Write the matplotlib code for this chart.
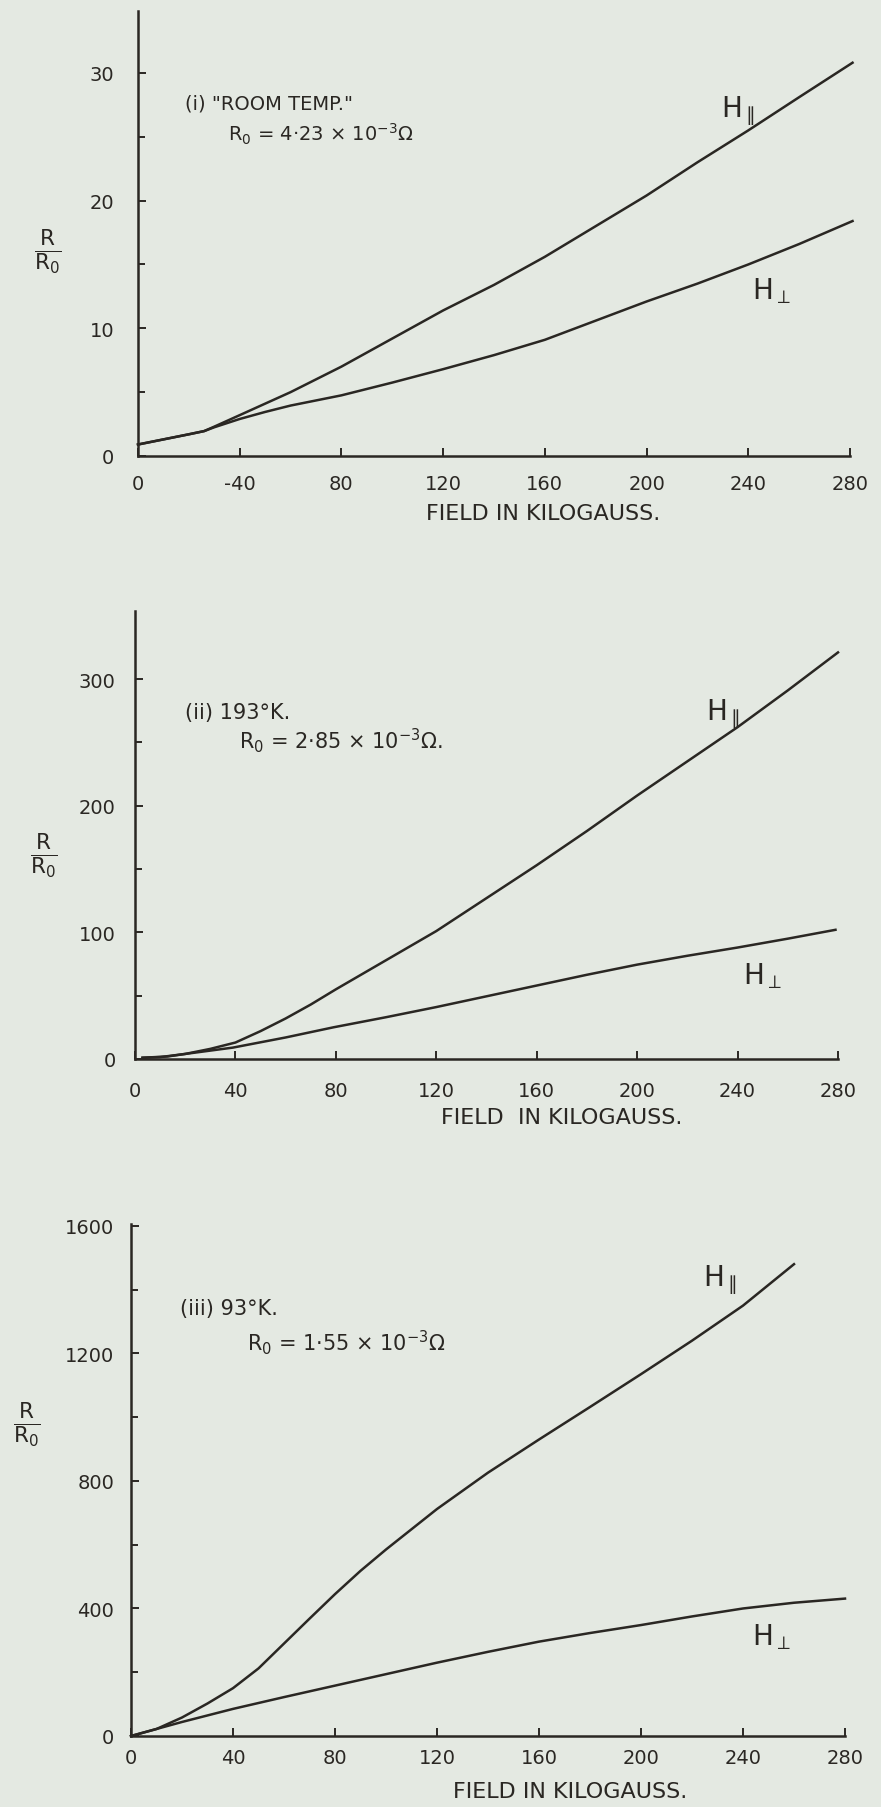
import matplotlib
matplotlib.use("Agg")
import matplotlib.pyplot as plt
import numpy as np

W, H = 881, 1808
BG = "#e4e9e2"
INK = "#2a2723"

plt.rcParams['font.family'] = ['DejaVu Sans']
plt.rcParams['mathtext.fontset'] = 'dejavusans'

# ---------------- data ----------------
# Panel (i) room temperature
x1_par = [0, 10, 20, 26, 30, 40, 50, 60, 80, 100, 120, 140, 160, 180, 200, 220, 240, 260, 281]
y1_par = [0.9, 1.3, 1.7, 1.95, 2.3, 3.2, 4.1, 5.0, 7.0, 9.2, 11.4, 13.4, 15.6, 18.0, 20.4, 23.0, 25.5, 28.1, 30.8]
x1_perp = [0, 10, 20, 26, 30, 40, 50, 60, 80, 100, 120, 140, 160, 180, 200, 220, 240, 260, 281]
y1_perp = [0.9, 1.3, 1.7, 1.95, 2.25, 2.9, 3.45, 3.95, 4.75, 5.75, 6.8, 7.9, 9.1, 10.6, 12.1, 13.5, 15.0, 16.6, 18.4]

# Panel (ii) 193 K
x2_par = [3, 13, 20, 30, 40, 50, 60, 70, 80, 100, 120, 140, 160, 180, 200, 220, 240, 260, 280]
y2_par = [1, 2, 4, 8, 13, 22, 32, 43, 55, 78, 101, 127, 153, 180, 208, 235, 262, 291, 321]
x2_perp = [3, 10, 20, 39, 60, 79, 100, 120, 140, 160, 180, 200, 220, 240, 260, 279]
y2_perp = [1, 1.5, 4, 9, 17, 25, 33, 41, 49.5, 58, 66.5, 74.5, 81.5, 88, 95, 102]

# Panel (iii) 93 K
x3_par = [0, 10, 20, 30, 40, 50, 60, 70, 80, 90, 100, 120, 140, 160, 180, 200, 220, 240, 260]
y3_par = [0, 22, 58, 102, 150, 212, 290, 368, 445, 518, 585, 712, 826, 930, 1032, 1135, 1240, 1350, 1480]
x3_perp = [0, 20, 40, 60, 80, 100, 120, 140, 160, 180, 200, 220, 240, 260, 280]
y3_perp = [0, 44, 85, 122, 158, 194, 230, 264, 296, 323, 348, 375, 400, 418, 431]

x_ticks = [0, 40, 80, 120, 160, 200, 240, 280]
x_labels_1 = ["0", "-40", "80", "120", "160", "200", "240", "280"]
x_labels = ["0", "40", "80", "120", "160", "200", "240", "280"]
y_ticks_1 = [0, 10, 20, 30]
y_ticks_2 = [0, 100, 200, 300]
y_ticks_3 = [0, 400, 800, 1200, 1600]
y_labels_3 = ["0", "400", "800", "1200", "1600"]

fig = plt.figure(figsize=(W / 100, H / 100), dpi=100)
fig.patch.set_facecolor(BG)


def ft(x, y, s, **kw):
    kw.setdefault("color", INK)
    fig.text(x / W, 1 - y / H, s, **kw)


def make_ax(x0, x1, ybot, ytop):
    ax = fig.add_axes([x0 / W, 1 - ybot / H, (x1 - x0) / W, (ybot - ytop) / H])
    ax.set_facecolor("none")
    for s in ("top", "right"):
        ax.spines[s].set_visible(False)
    for s in ("left", "bottom"):
        ax.spines[s].set_color(INK)
        ax.spines[s].set_linewidth(1.8)
    ax.tick_params(which="both", direction="in", color=INK, width=1.4, labelcolor=INK, labelsize=14)
    ax.tick_params(which="major", length=6)
    ax.tick_params(which="minor", length=5)
    return ax


lw = 1.8

# ---- panel (i)
ax1 = make_ax(138, 850, 457, 12)
ax1.set_xlim(0, 280)
ax1.set_ylim(0, 34.85)
ax1.plot(x1_par, y1_par, color=INK, lw=lw, clip_on=False)
ax1.plot(x1_perp, y1_perp, color=INK, lw=lw, clip_on=False)
ax1.set_xticks(x_ticks)
ax1.set_xticklabels(x_labels_1)
ax1.set_yticks(y_ticks_1)
ax1.set_yticks([5, 15, 25], minor=True)
ax1.tick_params(axis="y", pad=17)
ax1.tick_params(axis="x", pad=13)

# ---- panel (ii)
ax2 = make_ax(135, 838, 1060, 612)
ax2.set_xlim(0, 280)
ax2.set_ylim(0, 353.7)
ax2.plot(x2_par, y2_par, color=INK, lw=lw, clip_on=False)
ax2.plot(x2_perp, y2_perp, color=INK, lw=lw, clip_on=False)
ax2.set_xticks(x_ticks)
ax2.set_xticklabels(x_labels)
ax2.set_yticks(y_ticks_2)
ax2.set_yticks([50, 150, 250], minor=True)
ax2.tick_params(axis="y", pad=14)
ax2.tick_params(axis="x", pad=16)

# ---- panel (iii)
ax3 = make_ax(131, 845, 1737, 1225)
ax3.set_xlim(0, 280)
ax3.set_ylim(0, 1606)
ax3.plot(x3_par, y3_par, color=INK, lw=lw, clip_on=False)
ax3.plot(x3_perp, y3_perp, color=INK, lw=lw, clip_on=False)
ax3.set_xticks(x_ticks)
ax3.set_xticklabels(x_labels)
ax3.set_yticks(y_ticks_3)
ax3.set_yticklabels(y_labels_3)
ax3.set_yticks([200, 600, 1000, 1400], minor=True)
ax3.tick_params(axis="y", pad=12)
ax3.tick_params(axis="x", pad=9)

# ---- texts
ylab = r"$\frac{\mathrm{R}}{\mathrm{R_0}}$"
ft(48, 252, ylab, fontsize=22, ha="center", va="center")
ft(44, 856, ylab, fontsize=22, ha="center", va="center")
ft(27, 1425, ylab, fontsize=22, ha="center", va="center")

ft(543, 514, "FIELD IN KILOGAUSS.", fontsize=16, ha="center", va="center")
ft(562, 1118, "FIELD  IN KILOGAUSS.", fontsize=16, ha="center", va="center")
ft(570, 1792, "FIELD IN KILOGAUSS.", fontsize=16, ha="center", va="center")

ft(185, 104, '(i) "ROOM TEMP."', fontsize=14, ha="left", va="center")
ft(228, 134, r"R$_0$ = 4·23 × 10$^{-3}$Ω", fontsize=14, ha="left", va="center")
ft(185, 713, "(ii) 193°K.", fontsize=15, ha="left", va="center")
ft(239, 741, r"R$_0$ = 2·85 × 10$^{-3}$Ω.", fontsize=15, ha="left", va="center")
ft(180, 1309, "(iii) 93°K.", fontsize=15, ha="left", va="center")
ft(247, 1343, r"R$_0$ = 1·55 × 10$^{-3}$Ω", fontsize=15, ha="left", va="center")

hpar = r"H$_{\parallel}$"
hperp = r"H$_{\perp}$"
ft(738, 111, hpar, fontsize=20, ha="center", va="center")
ft(772, 291, hperp, fontsize=20, ha="center", va="center")
ft(723, 714, hpar, fontsize=20, ha="center", va="center")
ft(763, 976, hperp, fontsize=20, ha="center", va="center")
ft(720, 1280, hpar, fontsize=20, ha="center", va="center")
ft(772, 1637, hperp, fontsize=20, ha="center", va="center")

fig.savefig("out.png", dpi=100, facecolor=BG)
